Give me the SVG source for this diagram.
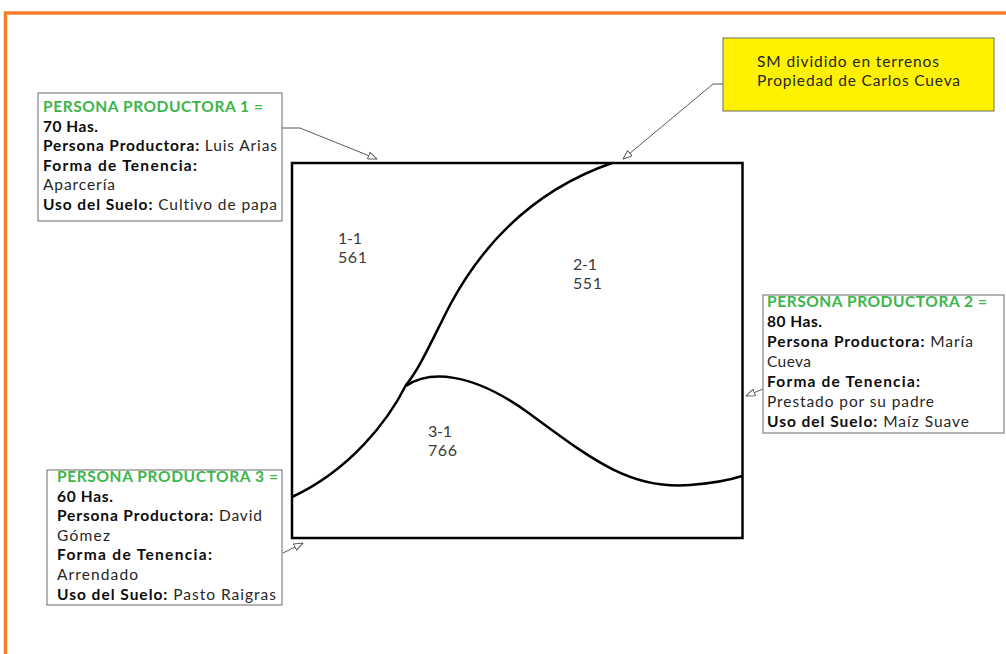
<svg xmlns="http://www.w3.org/2000/svg" width="1006" height="654" viewBox="0 0 1006 654">
<style>
.t{font-family:Lato,"Open Sans","Liberation Sans",sans-serif;font-size:15.5px;fill:#262626;font-variant-ligatures:none;font-feature-settings:"liga" 0}
.b{font-weight:bold;fill:#0d0d0d}
.g{font-weight:bold;fill:#3cb54a}
.lbl{font-family:Lato,"Open Sans","Liberation Sans",sans-serif;font-size:16px;fill:#3a3a3a}
.box{fill:#fff;stroke:#6a6a6a;stroke-width:1}
.con{fill:none;stroke:#595959;stroke-width:1}
.edge{fill:none;stroke:#000;stroke-width:2.5}
</style>
<defs>
<marker id="oa" viewBox="0 0 10 8" refX="9.5" refY="4" markerWidth="10" markerHeight="8" markerUnits="userSpaceOnUse" orient="auto">
<path d="M0.5,0.5 L9.5,4 L0.5,7.5 z" fill="#fff" stroke="#595959" stroke-width="1"/>
</marker>
</defs>
<rect x="0" y="0" width="1006" height="654" fill="#fff"/>
<rect id="frame" x="5.5" y="13" width="1010" height="660" fill="none" stroke="#f47d2a" stroke-width="3.5"/>

<g id="terreno">
<rect x="292" y="163" width="450.5" height="375" fill="#fff" stroke="#000" stroke-width="2.5"/>
<path class="edge" d="M612,163 C540,188 486,238 450,305 C432,340 420,368 406,385 C388,421 350,470 292,497"/>
<path class="edge" d="M406,386 C428,371 470,370 530,414 C590,458 630,490 690,485 C715,483 730,480 742,476"/>
<text class="lbl" x="338" y="244" textLength="24" lengthAdjust="spacing">1-1</text>
<text class="lbl" x="338" y="263" textLength="29" lengthAdjust="spacing">561</text>
<text class="lbl" x="573" y="270" textLength="24" lengthAdjust="spacing">2-1</text>
<text class="lbl" x="573" y="289" textLength="29" lengthAdjust="spacing">551</text>
<text class="lbl" x="428" y="437" textLength="24" lengthAdjust="spacing">3-1</text>
<text class="lbl" x="428" y="456" textLength="29" lengthAdjust="spacing">766</text>
</g>

<g id="nota-sm">
<rect x="723" y="38" width="271" height="73" fill="#fff200" stroke="#6b6b55" stroke-width="1"/>
<text class="t" x="757" y="67" textLength="182" lengthAdjust="spacing">SM dividido en terrenos</text>
<text class="t" x="757" y="86" textLength="203" lengthAdjust="spacing">Propiedad de Carlos Cueva</text>
</g>

<g id="productora-1">
<rect class="box" x="38" y="93" width="244" height="128"/>
<text class="t g" x="43" y="112" textLength="220" lengthAdjust="spacing">PERSONA PRODUCTORA 1 =</text>
<text class="t b" x="43" y="132" textLength="55" lengthAdjust="spacing">70 Has.</text>
<text class="t" x="43" y="151" textLength="234" lengthAdjust="spacing"><tspan class="b">Persona Productora:</tspan> Luis Arias</text>
<text class="t b" x="43" y="171" textLength="154" lengthAdjust="spacing">Forma de Tenencia:</text>
<text class="t" x="43" y="190" textLength="72" lengthAdjust="spacing">Aparcería</text>
<text class="t" x="43" y="210" textLength="234" lengthAdjust="spacing"><tspan class="b">Uso del Suelo:</tspan> Cultivo de papa</text>
</g>

<g id="productora-2">
<rect class="box" x="763" y="295" width="241" height="138"/>
<text class="t g" x="767" y="307" textLength="220" lengthAdjust="spacing">PERSONA PRODUCTORA 2 =</text>
<text class="t b" x="767" y="327" textLength="55" lengthAdjust="spacing">80 Has.</text>
<text class="t" x="767" y="347" textLength="206" lengthAdjust="spacing"><tspan class="b">Persona Productora:</tspan> María</text>
<text class="t" x="767" y="367" textLength="44" lengthAdjust="spacing">Cueva</text>
<text class="t b" x="767" y="387" textLength="153" lengthAdjust="spacing">Forma de Tenencia:</text>
<text class="t" x="767" y="407" textLength="167" lengthAdjust="spacing">Prestado por su padre</text>
<text class="t" x="767" y="427" textLength="202" lengthAdjust="spacing"><tspan class="b">Uso del Suelo:</tspan> Maíz Suave</text>
</g>

<g id="productora-3">
<rect class="box" x="47" y="470" width="235" height="135"/>
<text class="t g" x="57" y="482" textLength="221" lengthAdjust="spacing">PERSONA PRODUCTORA 3 =</text>
<text class="t b" x="57" y="502" textLength="56" lengthAdjust="spacing">60 Has.</text>
<text class="t" x="57" y="521" textLength="205" lengthAdjust="spacing"><tspan class="b">Persona Productora:</tspan> David</text>
<text class="t" x="57" y="541" textLength="53" lengthAdjust="spacing">Gómez</text>
<text class="t b" x="57" y="560" textLength="155" lengthAdjust="spacing">Forma de Tenencia:</text>
<text class="t" x="57" y="580" textLength="81" lengthAdjust="spacing">Arrendado</text>
<text class="t" x="57" y="600" textLength="219" lengthAdjust="spacing"><tspan class="b">Uso del Suelo:</tspan> Pasto Raigras</text>
</g>

<g id="connectors">
<polyline class="con" points="282,128 300,128 377,159" marker-end="url(#oa)"/>
<polyline class="con" points="723,84 713,84 623,159" marker-end="url(#oa)"/>
<polyline class="con" points="763,389 746,396" marker-end="url(#oa)"/>
<polyline class="con" points="283,553 303,543" marker-end="url(#oa)"/>
</g>
</svg>
